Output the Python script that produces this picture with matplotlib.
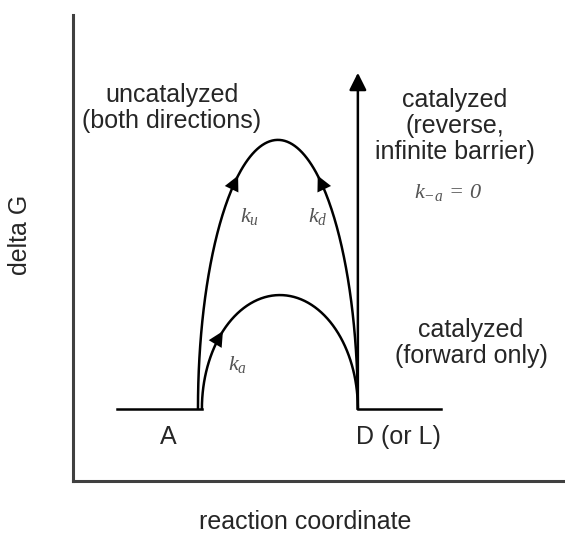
import numpy as np
import matplotlib
matplotlib.use("Agg")
import matplotlib.pyplot as plt

plt.rcParams['font.family'] = ['Liberation Sans', 'DejaVu Sans']
plt.rcParams['mathtext.fontset'] = 'custom'
plt.rcParams['mathtext.it'] = 'Liberation Serif:italic'
plt.rcParams['mathtext.rm'] = 'Liberation Serif:italic'

# schematic energy levels (arbitrary units, axes run 0..100)
base_G = 15.5
left_flat = [8.9, 26.2]
right_flat = [57.9, 74.8]
uncat_feet = [25.4, 57.9]
uncat_peak = 73.2
cat_feet = [26.2, 57.9]
cat_peak = 39.9
reverse_top = 87.6

# where the arrow heads sit, as fraction of arch height
uncat_arrow_frac = 0.83
cat_arrow_frac = 0.63

state_labels = ["A", "D (or L)"]
state_x = [19.3, 66.1]


def arch(feet, peak, n=200):
    # half ellipse standing on the baseline
    cx = (feet[0] + feet[1]) / 2
    a = (feet[1] - feet[0]) / 2
    b = peak - base_G
    t = np.linspace(np.pi, 0, n)
    return cx + a * np.cos(t), base_G + b * np.sin(t)


def head(feet, peak, frac, side, ax):
    cx = (feet[0] + feet[1]) / 2
    a = (feet[1] - feet[0]) / 2
    b = peak - base_G
    t = np.arcsin(frac)
    if side == 'left':
        t = np.pi - t
    dt = 0.07 if side == 'left' else -0.07
    tip = (cx + a * np.cos(t - dt), base_G + b * np.sin(t - dt))
    tail = (cx + a * np.cos(t), base_G + b * np.sin(t))
    ax.annotate('', xy=tip, xytext=tail,
                arrowprops=dict(arrowstyle='-|>', color='black', lw=0.01,
                                mutation_scale=27, shrinkA=0, shrinkB=0))


fig = plt.figure(figsize=(5.65, 5.38), dpi=100)
ax = fig.add_axes([73 / 565, 57 / 538, 492 / 565, 466 / 538])
ax.set_xlim(0, 100)
ax.set_ylim(0, 100)
for s in ['top', 'right']:
    ax.spines[s].set_visible(False)
for s in ['left', 'bottom']:
    ax.spines[s].set_linewidth(2.2)
    ax.spines[s].set_color('#404040')
ax.set_xticks([])
ax.set_yticks([])

lw = 1.8
ax.plot(left_flat, [base_G, base_G], color='black', lw=lw)
ax.plot(right_flat, [base_G, base_G], color='black', lw=lw)
x, y = arch(uncat_feet, uncat_peak)
ax.plot(x, y, color='black', lw=lw)
x, y = arch(cat_feet, cat_peak)
ax.plot(x, y, color='black', lw=lw)

ax.annotate('', xy=(right_flat[0], reverse_top), xytext=(right_flat[0], base_G),
            arrowprops=dict(arrowstyle='-|>', color='black', lw=lw,
                            mutation_scale=26, shrinkA=0, shrinkB=0))

head(uncat_feet, uncat_peak, uncat_arrow_frac, 'left', ax)
head(uncat_feet, uncat_peak, uncat_arrow_frac, 'right', ax)
head(cat_feet, cat_peak, cat_arrow_frac, 'left', ax)

fs = 18
tc = '#262626'
ls = 1.12
ax.text(20.1, 80.0, "uncatalyzed\n(both directions)", ha='center', va='center',
        fontsize=fs, linespacing=ls, color=tc)
ax.text(77.6, 76.2, "catalyzed\n(reverse,\ninfinite barrier)", ha='center',
        va='center', fontsize=fs, linespacing=ls, color=tc)
ax.text(80.9, 29.6, "catalyzed\n(forward only)", ha='center', va='center',
        fontsize=fs, linespacing=ls, color=tc)
for lab, xx in zip(state_labels, state_x):
    ax.text(xx, 9.4, lab, ha='center', va='center', fontsize=fs, color=tc)

kc = '#555555'
ax.text(35.8, 56.7, r'$k_u$', ha='center', va='center', fontsize=16, color=kc)
ax.text(49.8, 56.7, r'$k_d$', ha='center', va='center', fontsize=16, color=kc)
ax.text(33.5, 24.9, r'$k_a$', ha='center', va='center', fontsize=16, color=kc)
ax.text(76.2, 62.0, r'$k_{-a}\,=\,0$', ha='center', va='center', fontsize=16, color=kc)

fig.text(20 / 565, 1 - 235 / 538, "delta G", rotation=90, ha='center', va='center',
         fontsize=fs, color=tc)
fig.text(305 / 565, 1 - 522 / 538, "reaction coordinate", ha='center', va='center',
         fontsize=fs, color=tc)

fig.savefig("out.png", dpi=100)
